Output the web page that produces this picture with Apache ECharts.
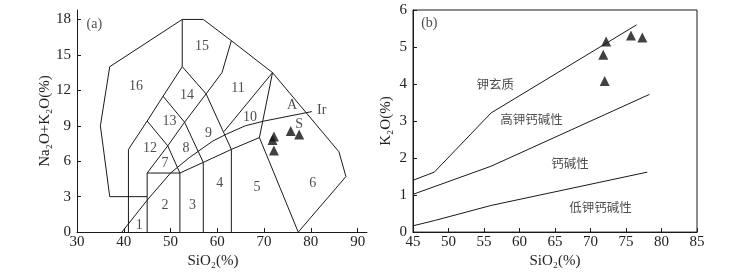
<!DOCTYPE html>
<html>
<head>
<meta charset="utf-8">
<script src="https://cdn.jsdelivr.net/npm/echarts@6/dist/echarts.min.js"></script>
<style>html,body{margin:0;padding:0;background:#fff}#c{width:735px;height:274px}</style>
</head>
<body>
<div id="c"></div>
<script>
// ---------- (a) TAS diagram boundaries (SiO2, Na2O+K2O) ----------
const tasOuter = [[45,3],[37,3],[35,9],[37,14],[52.5,18],[57,18],[63,16.2],[71.8,13.5],[86,6.8],[87.5,4.7],[77.3,0]];
const tasLine41 = [[41,0],[41,7],[45,9.4],[48.4,11.5],[52.5,14],[52.5,18]];
const tasLine45 = [[45,0],[45,5],[49.4,7.3],[53,9.3],[57.6,11.7],[61,13.5],[63,16.2]];
const tasCross1 = [[45,9.4],[49.4,7.3],[52,5]];
const tasCross2 = [[48.4,11.5],[53,9.3],[57,5.9]];
const tasCross3 = [[52.5,14],[57.6,11.7],[63,7]];
const tasBase = [[45,5],[52,5],[57,5.9],[63,7],[69,8],[77.3,0]];
const tasV52 = [[52,0],[52,5]];
const tasV57 = [[57,0],[57,5.9]];
const tasV63 = [[63,0],[63,7]];
const tasLine69 = [[69,8],[71.8,13.5]];
const tasLine1011 = [[61.4,8.5],[71.8,13.5]];
const irvineLine = [[39.6,0],[45,2.7],[50,5],[54,6.3],[59,7.7],[62,8.3],[66,9.0],[70,9.4],[80.2,10.2]];
const tasFieldNames = ['1','2','3','4','5','6','7','8','9','10','11','12','13','14','15','16','A','S','Ir','(a)'];
const tasFieldX = [43.3,48.8,54.7,60.5,68.5,80.4,48.8,53.3,58.1,67.0,64.4,45.6,49.8,53.5,56.7,42.6,76.0,77.5,82.3,33.7];
const tasFieldY = [0.55,2.3,2.3,4.1,3.8,4.1,5.8,7.1,8.4,9.7,12.2,7.1,9.4,11.6,15.7,12.3,10.7,9.1,10.3,17.6];
const samplesSiO2_a = [71.8,72.1,72.1,75.7,77.5];
const samplesAlk_a = [7.8,8.1,6.9,8.55,8.27];

// ---------- (b) K2O - SiO2 ----------
const shoshoniteLine = [[45,1.4],[48,1.62],[56,3.22],[76.5,5.6]];
const highKLine = [[45,1.02],[56,1.78],[78.3,3.72]];
const lowKLine = [[45,0.17],[48,0.31],[56,0.72],[78,1.62]];
const seriesNamesB = ['钾玄质','高钾钙碱性','钙碱性','低钾钙碱性','(b)'];
const seriesNameX = [56.6,61.7,67.1,71.4,47.3];
const seriesNameY = [3.99,3.05,1.86,0.67,5.63];
const samplesSiO2_b = [72.2,71.8,72.0,75.7,77.3];
const samplesK2O_b = [5.15,4.79,4.08,5.31,5.26];

// tick labels
const xTicksA = [30,40,50,60,70,80,90];
const yTicksA = [0,3,6,9,12,15,18];
const xTicksB = [45,50,55,60,65,70,75,80,85];
const yTicksB = [0,1,2,3,4,5,6];

const INK = '#1a1a1a';
const SERIF = '"Liberation Serif","DejaVu Serif",serif';
const CJK = '"Noto Sans CJK SC",sans-serif';

function lineSeries(data, xi, yi) {
  return {type:'line', xAxisIndex:xi, yAxisIndex:yi, data:data, symbol:'none', silent:true,
    lineStyle:{color:INK, width:1}, animation:false};
}
function labelSeries(names, xs, ys, xi, yi, font, size) {
  return {type:'scatter', xAxisIndex:xi, yAxisIndex:yi, symbolSize:1, silent:true, animation:false,
    itemStyle:{color:'rgba(0,0,0,0)'},
    data: names.map((n,i)=>({value:[xs[i],ys[i]], name:n})),
    label:{show:true, position:'inside', formatter:p=>p.name, color:'#222', fontFamily:font, fontSize:size}};
}
function axisCommon(min, max, interval, ticks) {
  return {type:'value', min:min, max:max, interval:interval,
    axisLine:{show:true, lineStyle:{color:INK, width:1}},
    axisTick:{show:true, inside:true, length:4, lineStyle:{color:INK}},
    splitLine:{show:false},
    axisLabel:{color:'#222', fontFamily:SERIF, fontSize:15, showMaxLabel: ticks.indexOf(max) >= 0,
      formatter: v => ticks.indexOf(v) >= 0 ? String(v) : ''},
    nameTextStyle:{color:'#222', fontFamily:SERIF, fontSize:15}};
}

const chart = echarts.init(document.getElementById('c'), null, {renderer:'canvas'});
const xa = axisCommon(30, 92, 10, xTicksA);
Object.assign(xa, {gridIndex:0, name:'SiO₂(%)', nameLocation:'middle', nameGap:17});
xa.nameTextStyle = Object.assign({}, xa.nameTextStyle, {padding:[0,18,0,0]});
xa.axisLabel.margin = 2;
const ya = axisCommon(0, 18.8, 3, yTicksA);
Object.assign(ya, {gridIndex:0, name:'Na₂O+K₂O(%)', nameLocation:'middle', nameGap:24});
ya.axisLabel.margin = 6;
const xb = axisCommon(45, 85, 5, xTicksB);
Object.assign(xb, {gridIndex:1, name:'SiO₂(%)', nameLocation:'middle', nameGap:17});
xb.axisLabel.margin = 2;
const yb = axisCommon(0, 6, 1, yTicksB);
Object.assign(yb, {gridIndex:1, name:'K₂O(%)', nameLocation:'middle', nameGap:19});
yb.axisLabel.margin = 6;

const series = [];
[tasOuter,tasLine41,tasLine45,tasCross1,tasCross2,tasCross3,tasBase,tasV52,tasV57,tasV63,tasLine69,tasLine1011,irvineLine]
  .forEach(d => series.push(lineSeries(d,0,0)));
series.push(labelSeries(tasFieldNames, tasFieldX, tasFieldY, 0, 0, SERIF, 14));
series.push({type:'scatter', xAxisIndex:0, yAxisIndex:0, symbol:'triangle', symbolSize:10, animation:false,
  itemStyle:{color:'#111'}, data: samplesSiO2_a.map((x,i)=>[x, samplesAlk_a[i]])});
[shoshoniteLine, highKLine, lowKLine].forEach(d => series.push(lineSeries(d,1,1)));
series.push(labelSeries(seriesNamesB.slice(0,4), seriesNameX, seriesNameY, 1, 1, CJK, 12.5));
series.push(labelSeries(seriesNamesB.slice(4), seriesNameX.slice(4), seriesNameY.slice(4), 1, 1, SERIF, 14));
series.push({type:'scatter', xAxisIndex:1, yAxisIndex:1, symbol:'triangle', symbolSize:10, animation:false,
  itemStyle:{color:'#111'}, data: samplesSiO2_b.map((x,i)=>[x, samplesK2O_b[i]])});

chart.setOption({
  backgroundColor:'#fff',
  animation:false,
  grid:[
    {left:77, right:368, top:10, bottom:41, containLabel:false},
    {left:413, right:38, top:10, bottom:41, containLabel:false, show:true, borderColor:INK, borderWidth:1, backgroundColor:'transparent'}
  ],
  xAxis:[xa, xb],
  yAxis:[ya, yb],
  series: series
});
</script>
</body>
</html>
